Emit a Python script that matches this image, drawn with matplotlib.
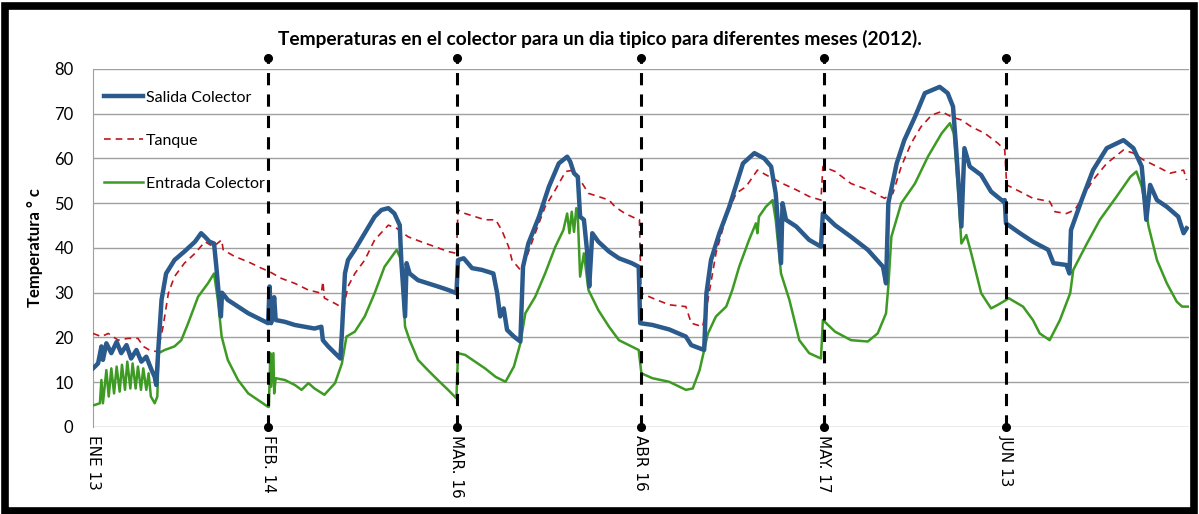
import matplotlib.pyplot as plt
from matplotlib.patches import Rectangle

# hours since start of first typical day (6 days, one per month)
salida_h = [0, 0.66, 1.1, 1.3, 1.75, 2.4, 3.1, 3.7, 4.4, 5.0, 5.7, 6.35, 7.0, 7.7, 8.1, 8.3,
            8.6, 9.0, 9.6, 10.7, 12.0, 13.4, 14.2, 14.7, 15.3, 15.9, 16.2, 16.5, 16.8, 16.95,
            17.7, 19.05, 20.4, 21.7, 23.0,
            23.2, 23.4, 23.8, 24.0, 25.2, 26.5, 27.8, 29.1, 30.0, 30.2, 30.9, 31.8, 32.5, 32.7,
            33.1, 33.5, 34.4, 35.7, 37.0, 37.9, 38.8, 39.6, 40.3, 40.5, 41.0, 41.2, 41.6, 42.7,
            44.0, 45.3, 46.7, 47.75,
            47.96, 48.7, 49.8, 51.1, 52.6, 53.1, 53.5, 53.96, 54.4, 55.3, 56.15, 56.5, 57.2,
            58.6, 59.9, 61.2, 62.3, 62.7, 63.2, 63.7, 64.0, 64.5, 64.9, 65.2, 65.6, 66.4, 67.8,
            69.1, 70.8, 71.7, 71.9,
            73.5, 75.7, 77.9, 78.6, 80.3, 80.6, 81.2, 82.3, 83.6, 85.4, 86.9, 88.2, 89.1, 89.7,
            90.4, 90.6, 91.05, 92.4, 94.1, 95.65, 95.9,
            97.5, 99.6, 101.8, 103.8, 104.2, 104.5, 105.6, 106.6, 108.0, 109.3, 111.25, 112.3,
            113.0, 113.4, 114.1, 114.5, 115.2, 116.7, 118.0, 119.6, 119.8, 119.96,
            121.8, 123.5, 125.5, 126.2, 127.9, 128.3, 128.5, 129.9, 131.4, 133.2, 135.4, 136.7,
            137.8, 138.4, 138.9, 139.8, 141.1, 142.6, 143.3, 143.7]
salida_t = [13.1, 14.2, 18.0, 15.0, 18.7, 16.5, 19.0, 16.5, 18.3, 15.3, 17.2, 14.6, 15.7, 12.7, 11.2, 9.4,
            18.0, 28.4, 34.3, 37.3, 39.2, 41.4, 43.3, 42.5, 41.4, 41.0, 35.8, 30.0, 24.7, 30.0,
            28.4, 26.9, 25.4, 24.3, 23.2,
            31.4, 23.2, 29.0, 23.9, 23.5, 22.8, 22.4, 22.0, 22.4, 19.4, 18.0, 16.5, 15.3, 21.0,
            34.3, 37.3, 39.6, 43.3, 47.0, 48.5, 48.9, 47.7, 45.1, 37.3, 24.7, 36.6, 34.3, 32.8,
            32.1, 31.4, 30.6, 29.9,
            37.3, 37.7, 35.5, 35.1, 34.3, 29.9, 24.7, 26.5, 21.7, 20.2, 19.1, 35.8, 41.0,
            47.0, 53.7, 58.9, 60.4, 59.3, 56.7, 55.9, 47.0, 46.3, 39.6, 31.4, 43.3, 41.4, 39.2,
            37.7, 36.6, 35.8, 23.2,
            22.8, 21.8, 20.2, 18.3, 17.2, 29.9, 37.3, 43.3, 49.2, 58.9, 61.2, 60.0, 58.2, 52.2,
            36.6, 50.0, 46.3, 44.8, 41.8, 40.3, 47.7,
            45.1, 42.5, 39.6, 35.8, 32.1, 50.0, 58.9, 64.1, 69.3, 74.6, 76.0, 74.6,
            71.6, 62.6, 44.8, 62.3, 58.2, 56.3, 52.6, 50.4, 50.7, 45.5,
            43.3, 41.4, 39.6, 36.6, 36.2, 34.3, 44.0, 50.7, 57.4, 62.3, 64.1, 62.3,
            58.2, 46.3, 54.1, 50.7, 49.2, 47.0, 43.3, 44.4]

tanque_h = [0, 1.1, 2.0, 3.3, 4.6, 5.9, 6.6, 7.4, 8.5, 9.2, 9.9, 10.7, 12.0, 13.4, 14.7, 15.8,
            16.9, 17.1, 18.6, 20.4, 22.1, 23.2,
            24.75, 26.5, 28.3, 30.0, 30.2, 30.4, 31.8, 32.9, 33.5, 34.4, 35.7, 37.0, 38.8, 39.9,
            41.4, 43.1, 44.9, 46.65, 47.75,
            47.96, 48.9, 50.2, 51.5, 52.9, 53.7, 54.6, 55.05, 56.15, 57.0, 58.1, 59.4, 60.75,
            62.1, 63.2, 64.0, 65.1, 66.4, 67.8, 68.6, 69.9, 71.7, 71.8,
            72.0, 73.5, 75.7, 77.9, 78.6, 80.1, 80.8, 81.85, 83.2, 84.5, 85.8, 87.3, 88.9, 90.6,
            92.4, 94.1, 95.65, 95.9,
            97.5, 99.6, 101.8, 104.0, 105.1, 106.2, 107.5, 108.8, 110.2, 111.5, 112.8, 114.1,
            115.4, 117.2, 118.9, 119.8, 120.05,
            121.8, 123.5, 125.7, 126.4, 127.9, 129.0, 130.1, 131.4, 133.2, 135.4, 136.7, 138.0,
            139.8, 141.5, 143.3, 143.7]
tanque_t = [20.9, 20.2, 20.9, 19.4, 19.8, 19.8, 18.0, 17.2, 16.8, 22.4, 29.9, 33.6, 36.6, 38.8, 41.4, 40.3,
            41.8, 39.6, 38.1, 36.9, 35.5, 34.7,
            33.2, 32.1, 30.6, 29.9, 32.5, 28.8, 27.6, 26.5, 31.4, 34.3, 37.3, 41.8, 45.1, 44.4,
            42.5, 41.4, 40.3, 39.2, 38.8,
            48.5, 47.7, 47.0, 46.3, 46.3, 44.0, 40.3, 37.3, 35.1, 38.1, 43.3, 49.2, 53.0,
            57.1, 57.4, 55.2, 52.2, 51.5, 50.7, 49.2, 47.7, 46.3, 46.3,
            29.9, 28.8, 27.3, 26.9, 23.2, 22.4, 28.4, 38.8, 47.0, 52.2, 53.7, 57.4, 55.9, 54.4,
            53.0, 51.5, 50.7, 58.2,
            57.1, 54.4, 53.0, 51.1, 52.2, 58.2, 63.4, 67.1, 69.7, 70.5, 69.3, 68.6,
            67.1, 65.6, 63.4, 61.9, 54.1,
            52.6, 51.1, 50.4, 48.1, 47.7, 48.5, 51.5, 55.2, 58.9, 61.9, 61.2, 59.7,
            58.2, 56.7, 57.4, 55.2]

entrada_h = [0, 0.9, 1.1, 1.3, 1.75, 2.06, 2.4, 2.76, 3.1, 3.5, 3.8, 4.2, 4.5, 4.9, 5.2, 5.6,
             5.9, 6.3, 6.6, 7.0, 7.3, 7.6, 8.1, 8.45, 8.6, 9.4, 10.7, 11.6, 12.5, 13.8, 15.1,
             15.9, 16.4, 16.9, 17.7, 19.05, 20.4, 21.7, 23.0,
             23.1, 23.3, 23.4, 23.7, 23.8, 24.0, 25.2, 26.5, 27.4, 28.3, 29.1, 30.4, 31.8, 32.7,
             33.3, 34.4, 35.7, 37.0, 38.3, 39.9, 40.5, 41.0, 41.6, 42.7, 44.0, 45.3, 46.65, 47.75,
             47.96, 48.9, 50.2, 51.5, 52.9, 54.2, 55.3, 56.15, 56.8, 58.1, 59.4, 60.75, 61.8,
             62.3, 62.6, 62.9, 63.2, 63.5, 63.7, 64.0, 64.5, 65.1, 66.4, 67.8, 69.1, 70.4, 71.7,
             72.05,
             73.5, 75.7, 77.9, 78.8, 79.7, 80.8, 81.85, 83.2, 84.0, 84.9, 86.2, 87.1, 87.3, 87.5,
             88.4, 89.3, 89.7, 90.4, 91.5, 92.8, 94.1, 95.65, 95.9,
             97.5, 99.6, 101.8, 103.1, 104.2, 104.5, 104.9, 106.2, 108.0, 109.7, 111.5, 112.6,
             113.1, 113.7, 114.1, 114.75, 115.4, 116.7, 118.0, 118.9, 120.0,
             120.3, 122.2, 123.5, 124.4, 125.7, 127.05, 128.4, 128.8, 130.6, 132.3, 134.5, 136.3,
             137.1, 137.8, 138.7, 139.8, 141.1, 142.4, 143.1, 144.0]
entrada_t = [4.8, 5.3, 10.5, 5.3, 12.7, 6.8, 13.1, 7.5, 13.5, 7.9, 13.9, 8.3, 14.6, 8.6, 14.2, 8.6,
             13.5, 8.3, 13.1, 8.3, 12.0, 6.8, 5.3, 6.8, 16.5, 17.2, 18.0, 19.4, 23.2, 29.1, 32.1,
             34.3, 28.4, 20.2, 15.0, 10.5, 7.5, 6.0, 4.5,
             4.5, 16.5, 9.0, 16.5, 7.5, 10.9, 10.5, 9.4, 8.3, 9.8, 8.6, 7.2, 9.8, 14.2,
             20.2, 21.3, 24.7, 29.9, 35.8, 39.6, 37.3, 22.4, 19.4, 15.0, 12.7, 10.5, 8.3, 6.4,
             16.5, 16.1, 14.6, 13.1, 11.2, 10.1, 13.5, 18.7, 25.4, 29.1, 34.3, 40.3, 44.0,
             47.7, 43.3, 48.1, 43.6, 48.9, 47.0, 33.6, 38.8, 30.6, 26.1, 22.4, 19.4, 18.3, 17.2,
             12.0,
             10.9, 10.1, 8.3, 8.6, 12.7, 20.9, 24.7, 26.9, 30.6, 35.8, 41.8, 45.5, 43.3, 47.0,
             49.2, 50.7, 46.3, 34.3, 28.4, 19.4, 16.5, 15.3, 23.9,
             21.3, 19.4, 19.1, 20.9, 25.4, 31.4, 42.5, 50.0, 54.4, 60.4, 65.6, 67.9,
             65.6, 52.2, 41.0, 42.9, 38.8, 29.9, 26.5, 27.3, 28.4,
             28.8, 26.9, 23.9, 20.9, 19.4, 23.9, 29.9, 35.1, 41.0, 46.3, 51.5, 55.9,
             57.1, 53.7, 44.8, 37.3, 32.1, 28.0, 26.9, 26.9]

# month boundaries (hour position) and their labels
mes_h = [0, 23, 47.8, 72, 96, 120]
mes_lbl = ["ENE 13", "FEB. 14", "MAR. 16", "ABR 16", "MAY. 17", "JUN 13"]

fig = plt.figure(figsize=(11.99, 5.14), dpi=100)
ax = fig.add_axes([0.0776, 0.1693, 0.914, 0.6965])

ax.plot(salida_h, salida_t, color="#2b5a8c", lw=3.2, label="Salida Colector", zorder=4)
ax.plot(tanque_h, tanque_t, color="#c0141c", lw=1.2, ls=(0, (4, 3)), label="Tanque", zorder=3)
ax.plot(entrada_h, entrada_t, color="#3d9a23", lw=1.8, label="Entrada Colector", zorder=3)

# dashed separators with pin dots
for h in mes_h[1:]:
    ax.plot([h, h], [0, 82.5], color="black", lw=2.2, ls=(0, (4, 3)), clip_on=False, zorder=5)
    ax.plot([h, h], [0, 82.5], "o", color="black", ms=5.5, clip_on=False, zorder=6)

ax.set_xlim(0, 144)
ax.set_ylim(0, 80)
ax.set_yticks(range(0, 81, 10))
ax.set_xticks(mes_h)
ax.set_xticklabels(mes_lbl, rotation=270, fontsize=11, va="top", ha="center")
ax.tick_params(axis="x", length=0, pad=6)
ax.tick_params(axis="y", length=0, pad=14, labelsize=12)
for t in ax.get_yticklabels():
    t.set_family("Lato")
ax.grid(axis="y", color="#a0a0a0", lw=1)
ax.set_axisbelow(True)
for s in ["top", "right", "bottom"]:
    ax.spines[s].set_visible(False)
ax.spines["left"].set_color("#a0a0a0")

ax.set_ylabel("Temperatura ° c", fontsize=12, fontweight="bold", family="Lato", labelpad=8)
fig.text(0.5, 0.925, "Temperaturas en el colector para un dia tipico para diferentes meses (2012).",
         ha="center", va="center", fontsize=13.8, fontweight="bold", family="Lato")

ax.legend(loc="upper left", bbox_to_anchor=(0.0, 0.97), frameon=False,
          prop={"family": "Lato", "size": 11.5}, labelspacing=1.8, handlelength=2.4,
          handletextpad=0.2, borderaxespad=0.3)

fig.patches.append(Rectangle((0.004, 0.005), 0.992, 0.983, transform=fig.transFigure,
                             fill=False, ec="black", lw=5.5))

fig.savefig("out.png", dpi=100)
